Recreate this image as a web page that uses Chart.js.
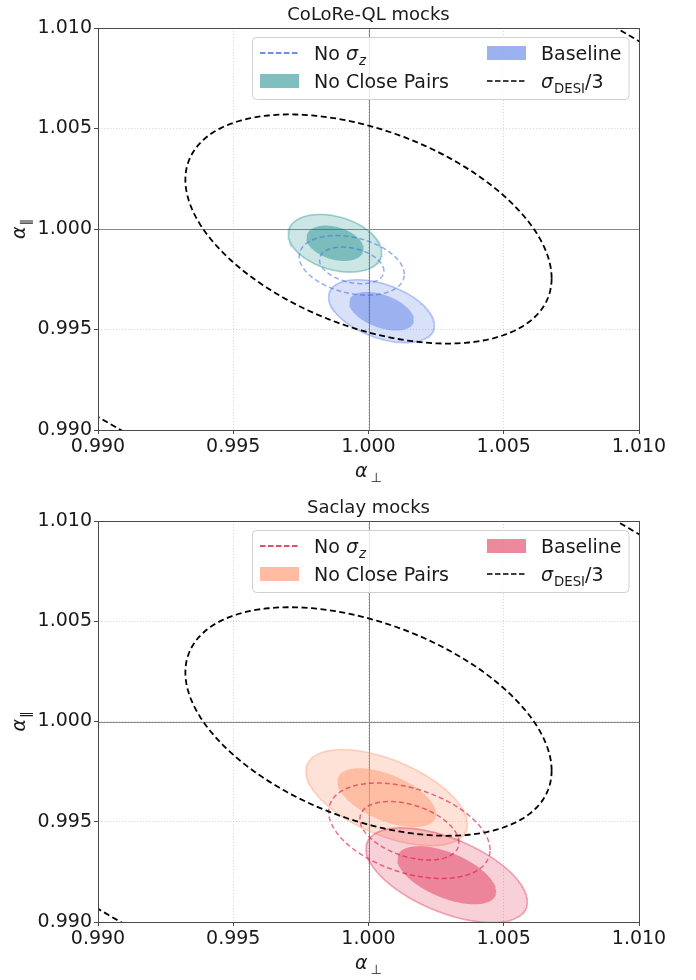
<!DOCTYPE html>
<html>
<head>
<meta charset="utf-8">
<script src="https://cdn.jsdelivr.net/npm/chart.js@4.4.1/dist/chart.umd.min.js"></script>
<style>
  html, body { margin: 0; padding: 0; background: #fff; }
  .panel { width: 696px; height: 490px; position: relative; }
  canvas { display: block; }
</style>
</head>
<body>
<div class="panel"><canvas id="c1" width="696" height="490"></canvas></div>
<div class="panel"><canvas id="c2" width="696" height="490"></canvas></div>
<script>
// ---------------- DATA ----------------
const axisMin = 0.990, axisMax = 1.010;
const tickValues = [0.990, 0.995, 1.000, 1.005, 1.010];
const tickLabels = ['0.990', '0.995', '1.000', '1.005', '1.010'];
const panelTitles = ['CoLoRe-QL mocks', 'Saclay mocks'];
// series order: No σz, No Close Pairs, Baseline, σDESI/3
const seriesKeys = ['noSigmaZ', 'noClosePairs', 'baseline', 'desi'];

// CoLoRe-QL posteriors (centre, 68% contour half-extents, correlation)
const coloreCenterX = [0.99938, 0.99876, 1.00048, 1.00000];
const coloreCenterY = [0.99819, 0.99929, 0.99591, 1.00000];
const coloreSigmaX  = [0.00119, 0.00106, 0.00120, 0.00677];
const coloreSigmaY  = [0.00091, 0.00088, 0.00096, 0.00570];
const coloreRho     = [-0.30, -0.32, -0.45, -0.43];

// Saclay posteriors
const saclayCenterX = [1.00151, 1.00067, 1.00289, 1.00000];
const saclayCenterY = [0.99455, 0.99620, 0.99233, 1.00000];
const saclaySigmaX  = [0.00183, 0.00183, 0.00183, 0.00677];
const saclaySigmaY  = [0.00146, 0.00147, 0.00145, 0.00570];
const saclayRho     = [-0.40, -0.55, -0.56, -0.43];

// contour levels (relative to the inner contour) for each series
const contourLevels = [[1, 1.63], [1, 1.63], [1, 1.63], [1, 2.92]];

// ---------------- STYLE ----------------
const FONT = "'DejaVu Sans', sans-serif";
const panelStyles = [
  { // CoLoRe-QL
    dashLine: 'rgba(65,105,225,0.55)', dashLegend: 'rgb(65,105,225)',
    ncp: [0,128,128], ncpA: {outer: 0.2, edge: 0.35, inner: 0.4, legend: 0.5},
    base: [65,105,225], baseA: {outer: 0.2, edge: 0.35, inner: 0.4, legend: 0.52},
    top: 28, bottom: 430
  },
  { // Saclay
    dashLine: 'rgba(220,20,60,0.6)', dashLegend: 'rgb(220,20,60)',
    ncp: [255,160,122], ncpA: {outer: 0.3, edge: 0.45, inner: 0.55, legend: 0.7},
    base: [220,20,60], baseA: {outer: 0.2, edge: 0.35, inner: 0.4, legend: 0.5},
    top: 31, bottom: 432
  }
];
const rgba = (c, a) => `rgba(${c[0]},${c[1]},${c[2]},${a})`;

function ellipsePoints(cx, cy, sx, sy, rho, k) {
  const pts = [];
  const n = 260;
  const s = Math.sqrt(1 - rho * rho);
  for (let i = 0; i <= n; i++) {
    const t = 2 * Math.PI * i / n;
    pts.push({ x: cx + k * sx * Math.cos(t), y: cy + k * sy * (rho * Math.cos(t) + s * Math.sin(t)) });
  }
  return pts;
}

function buildDatasets(cx, cy, sx, sy, rho, st) {
  const ds = [];
  const base = { showLine: true, pointRadius: 0, pointHoverRadius: 0, tension: 0 };
  const E = (i, lvl) => ellipsePoints(cx[i], cy[i], sx[i], sy[i], rho[i], contourLevels[i][lvl]);
  // No Close Pairs: outer then inner fill
  ds.push(Object.assign({}, base, { data: E(1, 1), fill: 'shape', backgroundColor: rgba(st.ncp, st.ncpA.outer), borderColor: rgba(st.ncp, st.ncpA.edge), borderWidth: 1.6, order: 9 }));
  ds.push(Object.assign({}, base, { data: E(1, 0), fill: 'shape', backgroundColor: rgba(st.ncp, st.ncpA.inner), borderColor: 'rgba(0,0,0,0)', borderWidth: 0, order: 8 }));
  // Baseline
  ds.push(Object.assign({}, base, { data: E(2, 1), fill: 'shape', backgroundColor: rgba(st.base, st.baseA.outer), borderColor: rgba(st.base, st.baseA.edge), borderWidth: 1.6, order: 7 }));
  ds.push(Object.assign({}, base, { data: E(2, 0), fill: 'shape', backgroundColor: rgba(st.base, st.baseA.inner), borderColor: 'rgba(0,0,0,0)', borderWidth: 0, order: 6 }));
  // No sigma_z dashed
  ds.push(Object.assign({}, base, { data: E(0, 1), fill: false, borderColor: st.dashLine, borderWidth: 1.5, borderDash: [5, 3], order: 5 }));
  ds.push(Object.assign({}, base, { data: E(0, 0), fill: false, borderColor: st.dashLine, borderWidth: 1.5, borderDash: [5, 3], order: 4 }));
  // DESI/3 black dashed
  ds.push(Object.assign({}, base, { data: E(3, 0), fill: false, borderColor: '#000', borderWidth: 1.8, borderDash: [6, 3.5], order: 1 }));
  ds.push(Object.assign({}, base, { data: E(3, 1), fill: false, borderColor: '#000', borderWidth: 1.8, borderDash: [6, 3.5], order: 0 }));
  return ds;
}

// rich text: parts [{t, it, sub, size}]
function richWidth(ctx, parts, size) {
  let w = 0;
  for (const p of parts) {
    const fs = p.sub ? size * 0.7 : size;
    ctx.font = `${p.it ? 'italic ' : ''}${fs}px ${FONT}`;
    w += ctx.measureText(p.t).width + (p.gap || 0);
  }
  return w;
}
function drawRich(ctx, x, y, parts, size, align) {
  let w = richWidth(ctx, parts, size);
  let cx = align === 'center' ? x - w / 2 : x;
  ctx.textBaseline = 'alphabetic';
  ctx.textAlign = 'left';
  for (const p of parts) {
    const fs = p.sub ? size * 0.7 : size;
    ctx.font = `${p.it ? 'italic ' : ''}${fs}px ${FONT}`;
    cx += (p.gap || 0);
    ctx.fillText(p.t, cx, y + (p.sub ? size * 0.25 : 0));
    cx += ctx.measureText(p.t).width;
  }
}

const legendLabels = [
  [{t: 'No '}, {t: 'σ', it: true}, {t: 'z', it: true, sub: true, gap: 1}],
  [{t: 'No Close Pairs'}],
  [{t: 'Baseline'}],
  [{t: 'σ', it: true}, {t: 'DESI', sub: true, gap: 1}, {t: '/3'}]
];

function makeDecor(panelIdx) {
  const st = panelStyles[panelIdx];
  return {
    id: 'decor' + panelIdx,
    beforeDatasetsDraw(chart) {
      const ctx = chart.ctx, a = chart.chartArea;
      const xs = chart.scales.x, ys = chart.scales.y;
      ctx.save();
      ctx.strokeStyle = '#8a8a8a';
      ctx.lineWidth = 1;
      const px = Math.round(xs.getPixelForValue(1.0)) + 0.5;
      const py = Math.round(ys.getPixelForValue(1.0)) + 0.5;
      ctx.beginPath();
      ctx.moveTo(px, a.top); ctx.lineTo(px, a.bottom);
      ctx.moveTo(a.left, py); ctx.lineTo(a.right, py);
      ctx.stroke();
      ctx.restore();
    },
    afterDatasetsDraw(chart) {
      const ctx = chart.ctx, a = chart.chartArea;
      ctx.save();
      // frame
      ctx.strokeStyle = '#4a4a4a';
      ctx.lineWidth = 1;
      ctx.strokeRect(Math.round(a.left) + 0.5, Math.round(a.top) + 0.5, Math.round(a.right - a.left), Math.round(a.bottom - a.top));
      // title
      ctx.fillStyle = '#1a1a1a';
      ctx.font = `18px ${FONT}`;
      ctx.textAlign = 'center';
      ctx.textBaseline = 'alphabetic';
      ctx.fillText(panelTitles[panelIdx], (a.left + a.right) / 2, a.top - 8.5);
      // x label
      drawRich(ctx, (a.left + a.right) / 2, a.bottom + 47, [{t: 'α', it: true}, {t: '⊥', sub: true, gap: 3}], 19, 'center');
      // y label
      ctx.save();
      ctx.translate(25, (a.top + a.bottom) / 2);
      ctx.rotate(-Math.PI / 2);
      drawRich(ctx, 0, 0, [{t: 'α', it: true}, {t: '∥', sub: true, gap: 1}], 19, 'center');
      ctx.restore();
      // legend
      const bx = a.left + 154.5, by = a.top + 9.5, bw = 376.5, bh = 62;
      ctx.fillStyle = 'rgba(255,255,255,0.8)';
      ctx.strokeStyle = '#d0d0d0';
      ctx.lineWidth = 1;
      ctx.beginPath();
      ctx.roundRect(bx, by, bw, bh, 4);
      ctx.fill(); ctx.stroke();
      const rows = [by + 15.5, by + 43.5];
      const cols = [bx + 7.5, bx + 234.5];
      const textOff = 54;
      const entries = [
        {col: 0, row: 0, type: 'line', color: st.dashLegend},
        {col: 0, row: 1, type: 'patch', color: rgba(st.ncp, st.ncpA.legend)},
        {col: 1, row: 0, type: 'patch', color: rgba(st.base, st.baseA.legend)},
        {col: 1, row: 1, type: 'line', color: '#000'}
      ];
      entries.forEach((e, i) => {
        const x0 = cols[e.col], yc = rows[e.row];
        if (e.type === 'line') {
          ctx.save();
          ctx.strokeStyle = e.color;
          ctx.lineWidth = 1.5;
          ctx.setLineDash([5.5, 2.5]);
          ctx.beginPath();
          ctx.moveTo(x0, yc); ctx.lineTo(x0 + 39, yc);
          ctx.stroke();
          ctx.restore();
        } else {
          ctx.fillStyle = e.color;
          ctx.fillRect(x0, yc - 7, 39, 14);
        }
        ctx.fillStyle = '#1a1a1a';
        drawRich(ctx, x0 + textOff, yc + 7, legendLabels[i], 19, 'left');
      });
      ctx.restore();
    }
  };
}

function makeChart(canvasId, panelIdx, cx, cy, sx, sy, rho) {
  const st = panelStyles[panelIdx];
  const axis = (isY) => ({
    type: 'linear',
    min: axisMin, max: axisMax,
    afterBuildTicks: (scale) => { scale.ticks = tickValues.map(v => ({ value: v })); },
    afterFit: (scale) => {
      if (isY) scale.width = 98; else scale.height = 490 - st.bottom;
    },
    grid: {
      color: '#cfcfcf', lineWidth: 0.8, drawTicks: true, tickLength: 4,
      tickColor: '#4a4a4a', tickWidth: 1, tickBorderDash: []
    },
    border: { display: false, dash: [1.2, 1.8] },
    ticks: {
      color: '#1a1a1a', padding: 2, maxRotation: 0, autoSkip: false,
      font: { family: FONT, size: 19 },
      callback: (v, i) => tickLabels[i]
    }
  });
  return new Chart(document.getElementById(canvasId), {
    type: 'scatter',
    data: { datasets: buildDatasets(cx, cy, sx, sy, rho, st) },
    options: {
      responsive: false, animation: false, devicePixelRatio: 1,
      layout: { padding: { left: 0, right: 57, top: st.top, bottom: 0 } },
      plugins: { legend: { display: false }, tooltip: { enabled: false }, title: { display: false } },
      scales: { x: axis(false), y: axis(true) },
      events: []
    },
    plugins: [makeDecor(panelIdx)]
  });
}

makeChart('c1', 0, coloreCenterX, coloreCenterY, coloreSigmaX, coloreSigmaY, coloreRho);
makeChart('c2', 1, saclayCenterX, saclayCenterY, saclaySigmaX, saclaySigmaY, saclayRho);
</script>
</body>
</html>
